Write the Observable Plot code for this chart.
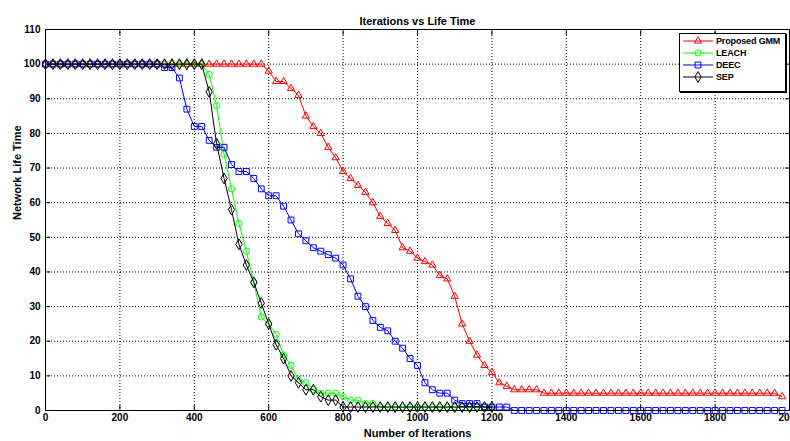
<!DOCTYPE html>
<html><head><meta charset="utf-8">
<script src="https://cdn.jsdelivr.net/npm/d3@7"></script>
<script src="https://cdn.jsdelivr.net/npm/@observablehq/plot@0.6"></script>
<style>
body{margin:0;background:#fff;}
#wrap{position:relative;width:790px;height:441px;font-family:"Liberation Sans",Arial,sans-serif;}
#legend{position:absolute;left:679px;top:33px;width:107px;height:59px;border:1px solid #000;box-shadow:1px 1px 0 #000;background:#fff;box-sizing:border-box;padding-top:1px;}
.row{display:flex;align-items:center;height:12px;font-size:9px;font-weight:bold;color:#000;white-space:nowrap;letter-spacing:-0.15px;}
.row svg{margin-left:3px;margin-right:3px;flex:none;}
</style>
</head><body>
<div id="wrap"></div>
<script>
const title = "Iterations vs Life Time";
const xLabel = "Number of Iterations";
const yLabel = "Network Life Time";
const xTicks = [0, 200, 400, 600, 800, 1000, 1200, 1400, 1600, 1800, 2000];
const yTicks = [0, 10, 20, 30, 40, 50, 60, 70, 80, 90, 100, 110];
const seriesNames = ["Proposed GMM", "LEACH", "DEEC", "SEP"];
const seriesColors = ["#ff0000", "#00ff00", "#0000ff", "#000000"];
const seriesSymbols = ["triangle", "circle", "square", "diamond"];

// iterations sampled every 20 rounds (0 .. 1980)
const iterations = d3.range(0, 2000, 20);

const gmm = [
  100,100,100,100,100,100,100,100,100,100,100,100,100,100,100,100,100,100,100,100,
  100,100,100,100,100,100,100,100,100,100,
  98,95,95,93,91,85,82,80,76,73,69,67,65,63,60,56,54,52,47,46,
  44,43,42,39,38,33,25,20,16,13,11,8,7,6,6,6,6,
  5,5,5,5,5,5,5,5,5,5,5,5,5,5,5,5,5,5,5,5,5,5,5,5,5,5,5,5,5,5,5,5,
  4
];
const leach = [
  100,100,100,100,100,100,100,100,100,100,100,100,100,100,100,100,100,100,100,100,100,100,
  97,88,74,64,54,46,37,27,25,22,16,13,9,8,6,5,5,5,4,3,3,2,2,
  1,1,1,1,1,1,1,1,1,1,1,1,1,1,1,1
];
const deec = [
  100,100,100,100,100,100,100,100,100,100,100,100,100,100,100,100,
  99,99,96,87,82,82,78,76,76,71,69,69,67,64,62,62,59,55,51,49,
  47,46,45,44,42,38,33,30,26,24,23,20,18,15,13,8,6,5,5,3,
  2,2,2,1,1,1,1,
  0,0,0,0,0,0,0,0,0,0,0,0,0,0,0,0,0,0,0,0,0,0,0,0,0,0,0,0,0,0,0,0,0,0,0,0,0
];
const sep = [
  100,100,100,100,100,100,100,100,100,100,100,100,100,100,100,100,100,100,100,100,100,100,
  92,77,67,58,48,42,37,31,25,19,15,10,8,6,6,4,3,3,1,
  1,1,1,1,1,1,1,1,1,1,1,1,1,1,1,1,1,1,1,1
];

const allSeries = [gmm, leach, deec, sep];
const symbolR = [2.7, 3.1, 3.3, 3.3];

const tables = allSeries.map((vals, i) => vals.map((v, j) => ({x: iterations[j], y: v, s: seriesNames[i]})));

const seriesMarks = tables.flatMap((t, i) => [
  Plot.line(t, {x: "x", y: "y", stroke: seriesColors[i], strokeWidth: 1}),
  Plot.dot(t, {x: "x", y: "y", symbol: seriesSymbols[i], stroke: seriesColors[i], fill: "none", r: symbolR[i], strokeWidth: 1})
]);

const chart = Plot.plot({
  width: 790, height: 441,
  marginTop: 29, marginBottom: 31, marginLeft: 45, marginRight: 1,
  style: {fontFamily: "'Liberation Sans', Arial, sans-serif", fontSize: "10px", fontWeight: "bold", color: "#000", background: "#fff"},
  x: {domain: [0, 2000]},
  y: {domain: [0, 110]},
  marks: [
    Plot.gridX(xTicks, {stroke: "#000", strokeOpacity: 1, strokeDasharray: "1,2"}),
    Plot.gridY(yTicks, {stroke: "#000", strokeOpacity: 1, strokeDasharray: "1,2"}),
    Plot.axisX(xTicks, {anchor: "bottom", tickSize: -5, tickPadding: 8, label: null, tickFormat: d => String(d)}),
    Plot.axisX(xTicks, {anchor: "top", tickSize: -5, tickFormat: () => "", label: null}),
    Plot.axisY(yTicks, {anchor: "left", tickSize: -5, tickPadding: 10, label: null, tickFormat: d => String(d)}),
    Plot.axisY(yTicks, {anchor: "right", tickSize: -5, tickFormat: () => "", label: null}),
    ...seriesMarks,
    Plot.frame({stroke: "#000", strokeWidth: 1}),
    Plot.text([title], {frameAnchor: "top", dy: -12, fontSize: 11, fontWeight: "bold"}),
    Plot.text([xLabel], {frameAnchor: "bottom", dy: 26, fontSize: 11, fontWeight: "bold"}),
    Plot.text([yLabel], {frameAnchor: "left", dx: -28, rotate: -90, fontSize: 11, fontWeight: "bold"})
  ]
});
const wrap = document.getElementById("wrap");
wrap.appendChild(chart);

// legend
const legend = document.createElement("div");
legend.id = "legend";
const symTypes = {triangle: d3.symbolTriangle, circle: d3.symbolCircle, square: d3.symbolSquare, diamond: d3.symbolDiamond};
seriesNames.forEach((name, i) => {
  const row = document.createElement("div");
  row.className = "row";
  const svg = d3.create("svg").attr("width", 30).attr("height", 12);
  svg.append("line").attr("x1", 0).attr("x2", 30).attr("y1", 6).attr("y2", 6).attr("stroke", seriesColors[i]).attr("stroke-width", 1);
  svg.append("path").attr("transform", "translate(15,6)")
    .attr("d", d3.symbol(symTypes[seriesSymbols[i]], Math.PI * symbolR[i] * symbolR[i])())
    .attr("fill", "none").attr("stroke", seriesColors[i]);
  row.appendChild(svg.node());
  const span = document.createElement("span");
  span.textContent = name;
  row.appendChild(span);
  legend.appendChild(row);
});
wrap.appendChild(legend);
</script>
</body></html>
